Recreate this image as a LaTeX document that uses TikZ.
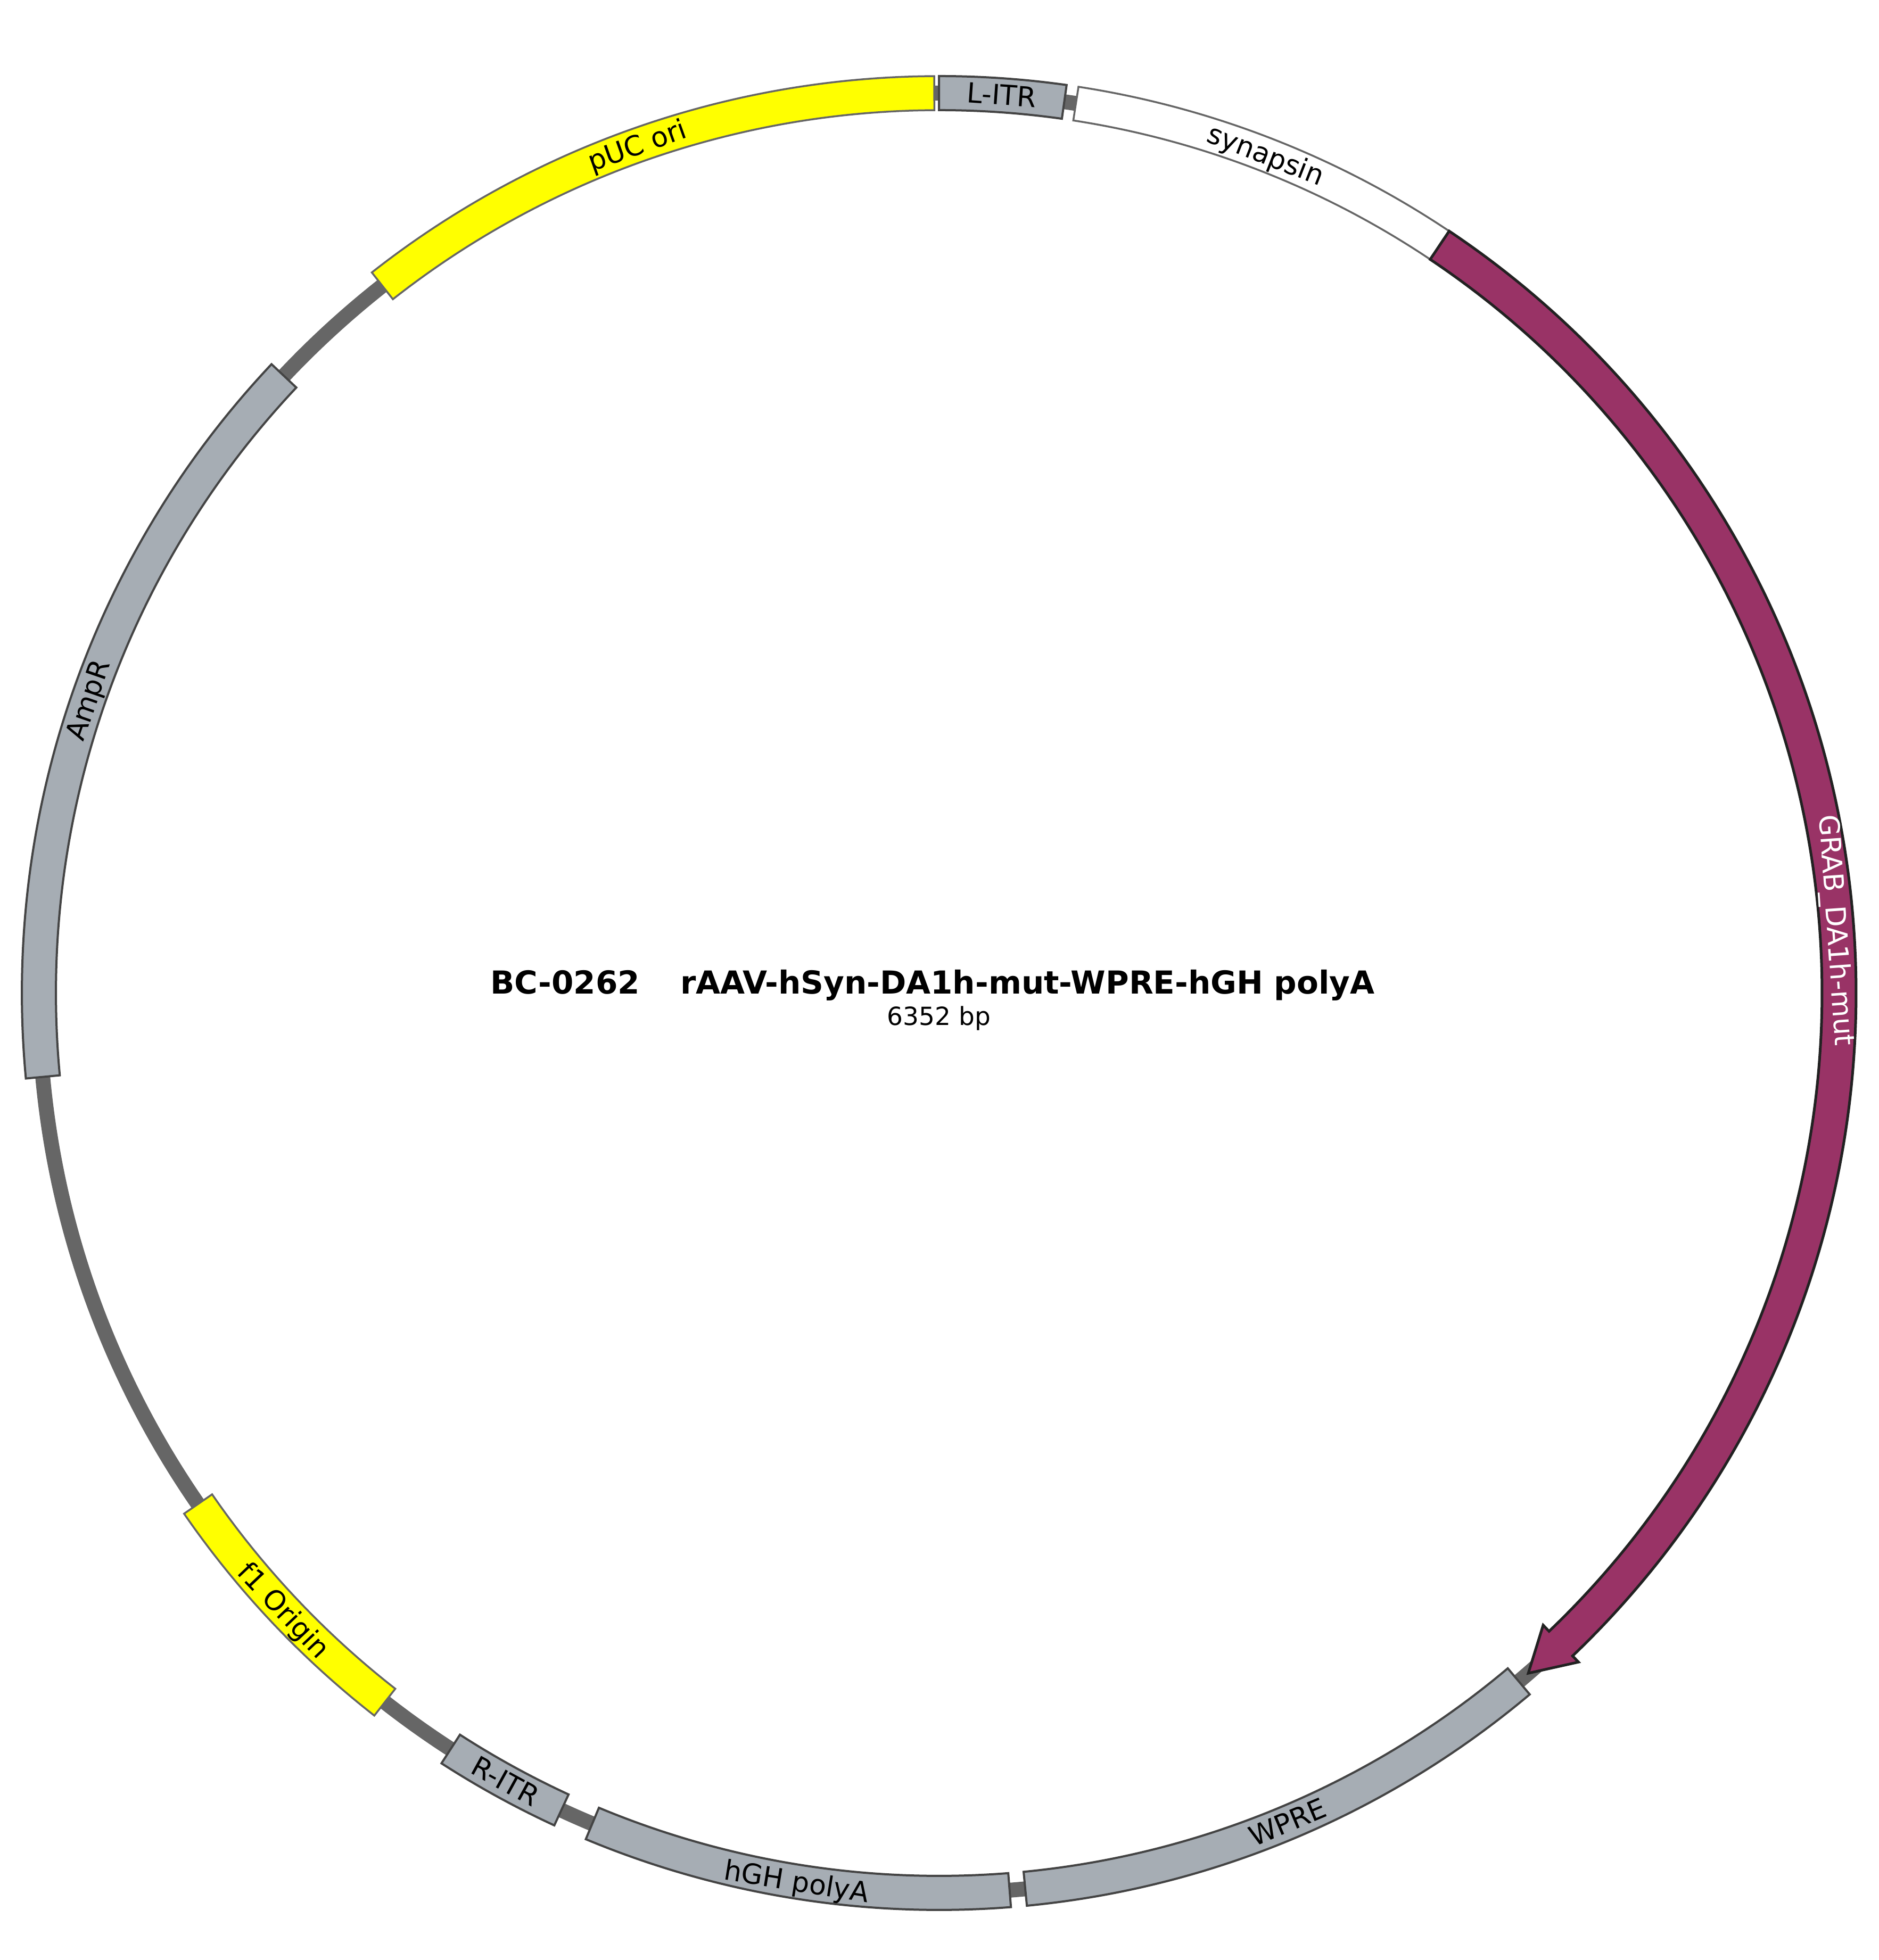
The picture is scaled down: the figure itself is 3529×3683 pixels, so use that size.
\documentclass[tikz,border=0pt]{standalone}
\usepackage{fontspec}
\setmainfont{DejaVu Sans}
\definecolor{featgray}{RGB}{166,173,180}
\definecolor{grabfill}{RGB}{153,51,102}
\definecolor{bbgray}{RGB}{102,102,102}
\definecolor{edgedark}{RGB}{68,68,68}
\definecolor{edgemid}{RGB}{102,102,102}
\definecolor{edgeblack}{RGB}{34,34,34}
\definecolor{oriyellow}{RGB}{255,255,0}
\def\Rout{1723pt}
\def\Rin{1659pt}
\def\Rmid{1691pt}
\newcommand{\plasband}[3]{%
  \draw[#1] ({90-#2}:\Rout) arc[start angle={90-#2}, end angle={90-#3}, radius=\Rout]
    -- ({90-#3}:\Rin) arc[start angle={90-#3}, end angle={90-#2}, radius=\Rin] -- cycle;}
\newcommand{\plaslabel}[5]{%
  \node[lbl, text=#5, rotate=#3] (#1) at ({90-#2}:\Rmid) {#4};}
\tikzset{
  graybox/.style={fill=featgray, draw=edgedark, line width=4pt, line join=miter},
  yellowbox/.style={fill=oriyellow, draw=edgemid, line width=3.5pt, line join=miter},
  whitebox/.style={fill=white, draw=edgemid, line width=3.5pt, line join=miter},
  grabbox/.style={fill=grabfill, draw=edgeblack, line width=5pt, line join=miter},
  lbl/.style={font=\fontsize{52}{60}\selectfont, inner sep=0pt, text height=36pt, text depth=0pt, anchor=center},
  backbone/.style={draw=bbgray, line width=28pt}
}
\begin{document}
\begin{tikzpicture}
\fill[white] (0pt,0pt) rectangle (3529pt,3683pt);
\useasboundingbox (0pt,0pt) rectangle (3529pt,3683pt);
\begin{scope}[shift={(1764pt,1817pt)}]
  \coordinate (ctr) at (0pt,0pt);
  \draw[backbone] (ctr) circle[radius=\Rmid];
  % features
  \plasband{graybox}{0}{8.0}
  \plasband{whitebox}{8.75}{33.8}
  \draw[grabbox] ({90-33.8}:\Rout) arc[start angle={90-33.8}, end angle={90-136.3}, radius=\Rout]
    -- ({90-136.3}:1739pt) -- ({90-139.1}:\Rmid) -- ({90-136.3}:1643pt)
    -- ({90-136.3}:\Rin) arc[start angle={90-136.3}, end angle={90-33.8}, radius=\Rin] -- cycle;
  \plasband{graybox}{139.9}{174.5}
  \plasband{graybox}{175.5}{202.65}
  \plasband{graybox}{204.8}{212.85}
  \plasband{yellowbox}{218.0}{235.4}
  \plasband{graybox}{264.65}{313.3}
  \plasband{yellowbox}{321.8}{359.7}
  % labels
  \plaslabel{litr}{4.0}{-4.0}{L-ITR}{black}
  \plaslabel{syn}{21.3}{-21.3}{synapsin}{black}
  \plaslabel{grab}{86}{-86}{GRAB\_DA1h-mut}{white}
  \plaslabel{wpre}{157.2}{22.8}{WPRE}{black}
  \plaslabel{hgh}{189.1}{-9.1}{hGH polyA}{black}
  \plaslabel{ritr}{208.8}{-28.8}{R-ITR}{black}
  \plaslabel{fone}{226.7}{-46.7}{f1 Origin}{black}
  \plaslabel{ampr}{289}{71}{AmpR}{black}
  \plaslabel{puc}{340.4}{19.6}{pUC ori}{black}
  % title
  \node[anchor=base, inner sep=0pt, font=\bfseries\fontsize{59.5}{70}\selectfont] (title) at (-12pt,-2pt)
    {BC-0262\hspace{76pt}rAAV-hSyn-DA1h-mut-WPRE-hGH polyA};
  \node[anchor=base, inner sep=0pt, font=\fontsize{47}{56}\selectfont] (size) at (0pt,-61pt) {6352 bp};
\end{scope}
\end{tikzpicture}
\end{document}
